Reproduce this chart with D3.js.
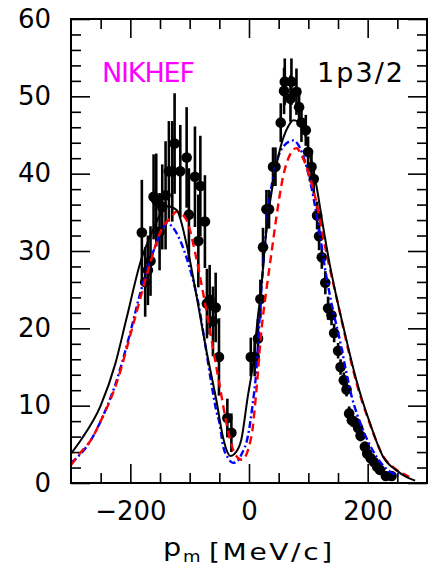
<!DOCTYPE html>
<html>
<head>
<meta charset="utf-8">
<script src="https://cdn.jsdelivr.net/npm/d3@7"></script>
<style>
body { margin: 0; background: #fff; }
text { font-family: "DejaVu Sans", sans-serif; }
</style>
</head>
<body>
<svg id="chart" width="432" height="568"></svg>
<script>
// measured points: missing momentum, cross section, error
const pm = [-180.6, -175, -170.4, -166, -160.8, -156.3, -150.7, -146.2, -140.6, -135, -129.3, -125.4,
    -115.8, -105.1, -101.3, -91.1, -85.4, -82, -74.3, -70.9, -66.3, -60.8, -56.2, -50.6, -36.5, -29.7,
    3, 9.5, 15.2, 19.2, 23.6, 29.4, 33.8, 40.5, 44.6, 53.5, 59.1, 60.3, 69.9, 71.5, 80, 84.4, 88.4,
    95.7, 99.6, 105.3, 109.2, 114.8, 118.1, 122.7, 128.6, 133.3, 139.1, 143.5, 150.2, 154.3, 159.8,
    164.4, 168.8, 173.3, 179.5, 184, 188, 195.3, 199.2, 205, 210.5, 216, 220.6, 230.7, 240.3];
const sigma = [32.4, 26, 27.5, 28.7, 37, 36.6, 32.5, 35.7, 37.2, 40.3, 40.3, 43.9,
    40.3, 42.1, 34.7, 39.6, 31.3, 38.4, 33.8, 23.2, 23.7, 20.9, 22.7, 16.3, 8.4, 6.5,
    16.3, 16.3, 18.7, 23.8, 30.5, 35.4, 35.4, 40.9, 40.9, 46.6, 50.7, 51.9, 49.7, 51.9, 50.6, 48.6, 46.6,
    45.6, 42.8, 40.9, 39.3, 34.6, 31.9, 29.2, 25.9, 22.6, 21.7, 19.4, 17.1, 15, 13.3,
    12.1, 9, 8.1, 7.8, 7.1, 6.1, 4.7, 3.8, 3.2, 2.7, 2.1, 1.7, 0.9, 0.9];
const sigmaErr = [6.8, 4.5, 4.5, 4.5, 5.5, 6, 5, 5.5, 7, 6.5, 6.5, 6.5,
    6, 6.5, 6, 6.5, 6, 6.5, 6, 4.5, 4.5, 4.5, 4.5, 5, 2.5, 2.5,
    2.5, 2.5, 2.5, 2.5, 2.5, 2.5, 2.5, 2.5, 2.5, 2.5, 3, 3, 3, 3, 3, 2.5, 2.5,
    2, 2, 2, 2, 1.8, 1.8, 1.5, 1.5, 1.5, 1.3, 1.2, 1, 1, 1,
    0.9, 0.9, 0.8, 0.8, 0.8, 0.7, 0.6, 0.6, 0.5, 0.5, 0.4, 0.4, 0.3, 0.3];

// calculations (black solid, red dashed, blue dash-dot)
const solidX = [-300, -283, -250, -225, -207, -182, -162, -145, -137, -122, -105, -88, -72, -55, -44, -38, -31, -24,
    -13, -2, 7, 15, 21, 26, 32, 40, 52, 66, 75, 83, 94, 102, 114, 125, 136, 147, 159, 181, 204, 226, 249, 265, 280];
const solidY = [3.8, 5.6, 10, 15.5, 21.1, 28.8, 32.7, 35.3, 35.8, 35.3, 30.8, 24, 17.2, 10.7, 6, 4.3, 3.5, 3.8,
    5.6, 11.2, 15.5, 21.5, 25.5, 30, 34.4, 38.5, 43.1, 46.1, 46.9, 46.7, 45.2, 42.6, 38.3, 33.1, 28.3, 24.2, 20.2,
    13.3, 7.7, 3.4, 1.6, 0.8, 0.3];
const dashX = [-300, -283, -266, -250, -225, -193, -170, -148, -131, -122, -113, -103, -90, -70, -52, -33, -24, -12,
    4, 12.5, 21, 29.4, 37.8, 46.2, 57.4, 68.7, 80, 88.4, 102.4, 113.8, 125, 136, 147.5, 159, 181, 204, 226, 249, 270];
const dashY = [2.3, 4, 5.6, 8, 12.5, 21.1, 27.5, 32.7, 34.4, 35.1, 34.8, 33.6, 29.5, 21.5, 13.7, 6, 3.8, 3,
    6, 12, 19.8, 25, 29.7, 34.4, 39.6, 42.4, 43.3, 42.4, 39.6, 36.2, 31.8, 27.8, 24, 20, 13, 7.6, 3.5, 1.7, 0.8];
const dotX = [-300, -291, -266, -250, -225, -200, -184.5, -170, -157, -145, -138, -130, -125, -114, -106, -97, -86,
    -75, -63.5, -55, -49.5, -44, -35, -27, -20, -12, -2, 5.7, 12.5, 20, 32, 46, 60, 75, 86, 97, 105, 119, 128, 137,
    153, 173, 192, 215, 237, 252];
const dotY = [2.6, 3.2, 5.6, 8, 12.8, 19.5, 24.2, 28, 30.8, 33, 33.6, 33.2, 32.7, 31, 29.3, 27, 23.5,
    18.5, 12.9, 9.3, 7.7, 4.9, 3.2, 2.6, 2.8, 3.8, 6, 9.9, 14.6, 24, 35, 41.3, 43.7, 44.3, 43.3, 40.9, 38.3, 32.3, 27.8, 24,
    18.5, 11.2, 6.9, 3.4, 1.5, 1];

const yMajor = [0, 10, 20, 30, 40, 50, 60];
const xMajor = [-200, 0, 200];

const svg = d3.select("#chart");
const x = d3.scaleLinear().domain([-300, 300]).range([71, 427]);
const y = d3.scaleLinear().domain([0, 60]).range([483, 19]);

const xMinor = d3.range(-250, 300, 50).filter(v => !xMajor.includes(v));
const yMinor = d3.range(2, 60, 2).filter(v => v % 10 != 0);

function tickAxis(axis, tx, ty, values, size, pad, labels) {
    const g = svg.append("g")
        .attr("transform", `translate(${tx},${ty})`)
        .call(axis.tickValues(values).tickSize(-size).tickPadding(pad)
            .tickFormat(labels ? d3.format("") : ""));
    g.select(".domain").remove();
    g.selectAll(".tick line").attr("stroke", "#000").attr("stroke-width", 1.6);
    g.selectAll("text").attr("font-size", 26).attr("fill", "#000")
        .style("font-family", '"DejaVu Sans", sans-serif');
    return g;
}

tickAxis(d3.axisBottom(x), 0, 483, xMinor, 10, 0, false);
tickAxis(d3.axisBottom(x), 0, 483, xMajor, 19, 19, true);
tickAxis(d3.axisTop(x), 0, 19, xMinor, 10, 0, false);
tickAxis(d3.axisTop(x), 0, 19, xMajor, 19, 0, false);
tickAxis(d3.axisLeft(y), 71, 0, yMinor, 10, 0, false);
tickAxis(d3.axisLeft(y), 71, 0, yMajor, 19, 20, true);
tickAxis(d3.axisRight(y), 427, 0, yMinor, 10, 0, false);
tickAxis(d3.axisRight(y), 427, 0, yMajor, 19, 0, false);

svg.append("clipPath").attr("id", "plot")
    .append("rect").attr("x", 71).attr("y", 19).attr("width", 356).attr("height", 464);

const plot = svg.append("g").attr("clip-path", "url(#plot)");

// error bars + points
const points = pm.map((p, i) => ({ p: p, s: sigma[i], e: sigmaErr[i] }));
plot.selectAll("line.err")
    .data(points)
    .enter().append("line")
    .attr("class", "err")
    .attr("x1", d => x(d.p)).attr("x2", d => x(d.p))
    .attr("y1", d => y(d.s - d.e)).attr("y2", d => y(d.s + d.e))
    .attr("stroke", "#000").attr("stroke-width", 2.6);
plot.selectAll("circle")
    .data(points)
    .enter().append("circle")
    .attr("cx", d => x(d.p)).attr("cy", d => y(d.s))
    .attr("r", 5.3).attr("fill", "#000");

const line = d3.line().x(d => x(d[0])).y(d => y(d[1])).curve(d3.curveMonotoneX);
const curves = [
    { xs: dotX, ys: dotY, color: "#0000ff", dash: "7,3,2,3", w: 2.4 },
    { xs: dashX, ys: dashY, color: "#ff0000", dash: "8,5", w: 2.4 },
    { xs: solidX, ys: solidY, color: "#000", dash: null, w: 2 }
];
curves.forEach(c => {
    plot.append("path")
        .attr("d", line(c.xs.map((v, i) => [v, c.ys[i]])))
        .attr("fill", "none")
        .attr("stroke", c.color)
        .attr("stroke-width", c.w)
        .attr("stroke-dasharray", c.dash);
});

// frame
svg.append("rect").attr("x", 71).attr("y", 19).attr("width", 356).attr("height", 464)
    .attr("fill", "none").attr("stroke", "#000").attr("stroke-width", 2);

svg.append("text").attr("x", 102).attr("y", 82).attr("font-size", 27)
    .attr("fill", "#ff00ff").attr("textLength", 93).text("NIKHEF");
svg.append("text").attr("x", 317).attr("y", 82).attr("font-size", 27)
    .attr("fill", "#000").attr("textLength", 86).text("1p3/2");

// x title (wide glyphs, so stretched a bit)
svg.append("text").attr("transform", "translate(163,556) scale(1.15,1)")
    .attr("font-size", 25).text("p");
svg.append("text").attr("transform", "translate(183,562) scale(1.2,1)")
    .attr("font-size", 15).text("m");
svg.append("text").attr("transform", "translate(209,560) scale(1.22,1)")
    .attr("font-size", 23).attr("textLength", 101).text("[MeV/c]");
</script>
</body>
</html>
